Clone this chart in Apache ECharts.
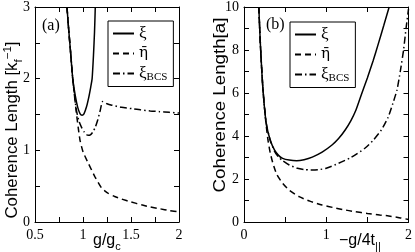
<!DOCTYPE html>
<html><head><meta charset="utf-8">
<script src="https://cdn.jsdelivr.net/npm/echarts@6/dist/echarts.min.js"></script>
<style>html,body{margin:0;padding:0;background:#fff}#c{width:415px;height:252px}</style>
</head><body><div id="c"></div>
<script>
const seriesNames = ['ξ', 'η\u0304', 'ξBCS'];

// Panel (a): x = g/gc, y = coherence length [kf^-1]
const xiA = [[0.833,3],[0.85,2.7],[0.87,2.38],[0.893,2.0],[0.92,1.76],[0.945,1.6],[0.97,1.51],[0.99,1.49],[1.01,1.51],[1.035,1.6],[1.06,1.74],[1.08,1.88],[1.095,2.0],[1.11,2.35],[1.12,2.65],[1.128,3]];
const etaA = [[0.833,3],[0.85,2.7],[0.87,2.38],[0.893,2.0],[0.915,1.72],[0.935,1.48],[0.952,1.3],[0.969,1.14],[1.0,0.98],[1.055,0.82],[1.125,0.63],[1.195,0.47],[1.23,0.43],[1.264,0.40],[1.33,0.355],[1.403,0.32],[1.5,0.28],[1.61,0.24],[1.7,0.21],[1.8,0.185],[1.9,0.16],[2.0,0.14]];
const bcsA = [[0.833,3],[0.85,2.7],[0.87,2.38],[0.893,2.0],[0.915,1.72],[0.934,1.54],[0.96,1.4],[0.985,1.32],[1.01,1.26],[1.035,1.22],[1.055,1.21],[1.08,1.22],[1.105,1.26],[1.13,1.33],[1.155,1.43],[1.18,1.56],[1.205,1.68],[1.25,1.65],[1.3,1.63],[1.4,1.6],[1.52,1.58],[1.6,1.565],[1.7,1.55],[1.8,1.54],[1.9,1.53],[2.0,1.52]];

// Panel (b): x = -g/4t||, y = coherence length [a]
const xiB = [[0.18,10],[0.2,8.2],[0.23,6.2],[0.27,4.6],[0.32,3.8],[0.37,3.35],[0.42,3.1],[0.47,2.96],[0.55,2.88],[0.64,2.85],[0.73,2.9],[0.83,3.02],[0.95,3.25],[1.07,3.58],[1.15,3.88],[1.23,4.28],[1.3,4.72],[1.36,5.2],[1.42,5.85],[1.5,6.7],[1.57,7.5],[1.63,8.25],[1.7,9.15],[1.765,10]];
const etaB = [[0.18,10],[0.2,8.2],[0.23,6.2],[0.26,4.85],[0.29,3.85],[0.32,3.2],[0.35,2.75],[0.4,2.2],[0.47,1.8],[0.55,1.48],[0.67,1.18],[0.8,0.97],[0.95,0.79],[1.1,0.66],[1.2,0.58],[1.35,0.48],[1.5,0.4],[1.65,0.33],[1.76,0.28],[1.9,0.19],[2.0,0.12]];
const bcsB = [[0.18,10],[0.2,8.2],[0.23,6.2],[0.27,4.6],[0.32,3.78],[0.37,3.3],[0.42,3.02],[0.47,2.85],[0.55,2.65],[0.65,2.5],[0.73,2.44],[0.81,2.42],[0.9,2.43],[1.0,2.5],[1.15,2.73],[1.3,3.0],[1.47,3.43],[1.57,3.8],[1.67,4.28],[1.75,4.85],[1.81,5.52],[1.86,6.14],[1.9,7.0],[1.94,8.0],[1.97,9.0],[2.0,9.9]];

const xTicksA = [0.5, 1, 1.5, 2];
const yTicksA = [0, 1, 2, 3];
const xTicksB = [0, 1, 2];
const yTicksB = [0, 2, 4, 6, 8, 10];

const serif = 'Liberation Serif';
const sans = 'Liberation Sans';

function axis(kind, gi, ticks, pos, showLabel) {
  return {
    type: 'value', gridIndex: gi, position: pos,
    min: ticks[0], max: ticks[ticks.length - 1], interval: ticks[1] - ticks[0],
    axisLine: { show: true, onZero: false, lineStyle: { color: '#000', width: 1 } },
    axisTick: { show: true, inside: true, length: 5, lineStyle: { color: '#000', width: 1 } },
    minorTick: { show: true, splitNumber: 2, length: 5, lineStyle: { color: '#000', width: 1 } },
    splitLine: { show: false }, minorSplitLine: { show: false },
    axisLabel: { show: showLabel, color: '#000', fontFamily: serif, fontSize: 14, margin: kind === 'x' ? 6 : 5,
      showMinLabel: true, showMaxLabel: true, hideOverlap: false }
  };
}

const dashes = ['solid', [6, 4], [7, 3, 1.5, 3]];
function line(name, data, xi, yi, k) {
  return {
    type: 'line', name, data, xAxisIndex: xi, yAxisIndex: yi,
    symbol: 'none', showSymbol: false, smooth: 0.2, clip: true,
    color: '#000', itemStyle: { color: '#000' },
    lineStyle: { color: '#000', width: 1.5, type: dashes[k] },
    animation: false
  };
}

const richBase = {
  m: { fontFamily: serif, fontSize: 17, color: '#000' },
  o: { fontFamily: 'DejaVu Serif', fontSize: 15, color: '#000' },
  s: { fontFamily: serif, fontSize: 11, color: '#000', padding: [7, 0, 0, 0] }
};
function legend(left, top) {
  return {
    left, top, orient: 'vertical', data: seriesNames, selectedMode: false,
    borderColor: '#000', borderWidth: 1, backgroundColor: '#fff',
    padding: [4, 6, 4, 4], itemGap: 4, itemWidth: 21, itemHeight: 12,
    itemStyle: { opacity: 0 },
    textStyle: { fontFamily: serif, fontSize: 17, color: '#000', rich: richBase },
    formatter: n => n === 'ξBCS' ? '{m|ξ}{s|BCS}' : (n === 'ξ' ? '{m|ξ}' : '{o|' + n + '}')
  };
}

const nameRich = {
  m: { fontFamily: sans, fontSize: 16, color: '#000', lineHeight: 18, verticalAlign: 'top', padding: [3, 0, 0, 0] },
  sub: { fontFamily: sans, fontSize: 11, color: '#000', lineHeight: 11, verticalAlign: 'top', padding: [11, 0, 0, 0] },
  sup: { fontFamily: sans, fontSize: 11, color: '#000', lineHeight: 11, verticalAlign: 'top', padding: [0, 0, 0, 0] }
};

const chart = echarts.init(document.getElementById('c'), null, { renderer: 'canvas' });
chart.setOption({
  animation: false,
  backgroundColor: '#fff',
  grid: [
    { left: 35, top: 7, width: 144, height: 215, show: false },
    { left: 244, top: 7, width: 166, height: 215, show: false }
  ],
  xAxis: [
    axis('x', 0, xTicksA, 'bottom', true),
    axis('x', 0, xTicksA, 'top', false),
    axis('x', 1, xTicksB, 'bottom', true),
    axis('x', 1, xTicksB, 'top', false)
  ],
  yAxis: [
    axis('y', 0, yTicksA, 'left', true),
    axis('y', 0, yTicksA, 'right', false),
    axis('y', 1, yTicksB, 'left', true),
    axis('y', 1, yTicksB, 'right', false)
  ],
  legend: [legend(108, 21), legend(290, 22)],
  series: [
    line(seriesNames[0], xiA, 0, 0, 0),
    line(seriesNames[1], etaA, 0, 0, 1),
    line(seriesNames[2], bcsA, 0, 0, 2),
    line(seriesNames[0], xiB, 2, 2, 0),
    line(seriesNames[1], etaB, 2, 2, 1),
    line(seriesNames[2], bcsB, 2, 2, 2)
  ],
  graphic: [
    { type: 'text', x: 42, y: 26, style: { text: '(a)', fontFamily: serif, fontSize: 16, fill: '#000', verticalAlign: 'middle' } },
    { type: 'text', x: 266, y: 25, style: { text: '(b)', fontFamily: serif, fontSize: 16, fill: '#000', verticalAlign: 'middle' } },
    { type: 'text', x: 93, y: 230, style: { text: '{m|g/g}{sub|c}', rich: nameRich, fill: '#000' } },
    { type: 'text', x: 339, y: 230, style: { text: '{m|−g/4t}{sub|||}', rich: nameRich, fill: '#000' } },
    { type: 'text', x: 11, y: 130, rotation: Math.PI / 2, scaleX: 1.05,
      style: { text: '{m|Coherence Length [k}{sub|f}{sup|−1}{m|]}', rich: nameRich, fill: '#000', align: 'center', verticalAlign: 'middle' } },
    { type: 'text', x: 219, y: 105, rotation: Math.PI / 2, scaleX: 1.17,
      style: { text: '{m|Coherence Length[a]}', rich: nameRich, fill: '#000', align: 'center', verticalAlign: 'middle' } }
  ]
});
</script>
</body></html>
